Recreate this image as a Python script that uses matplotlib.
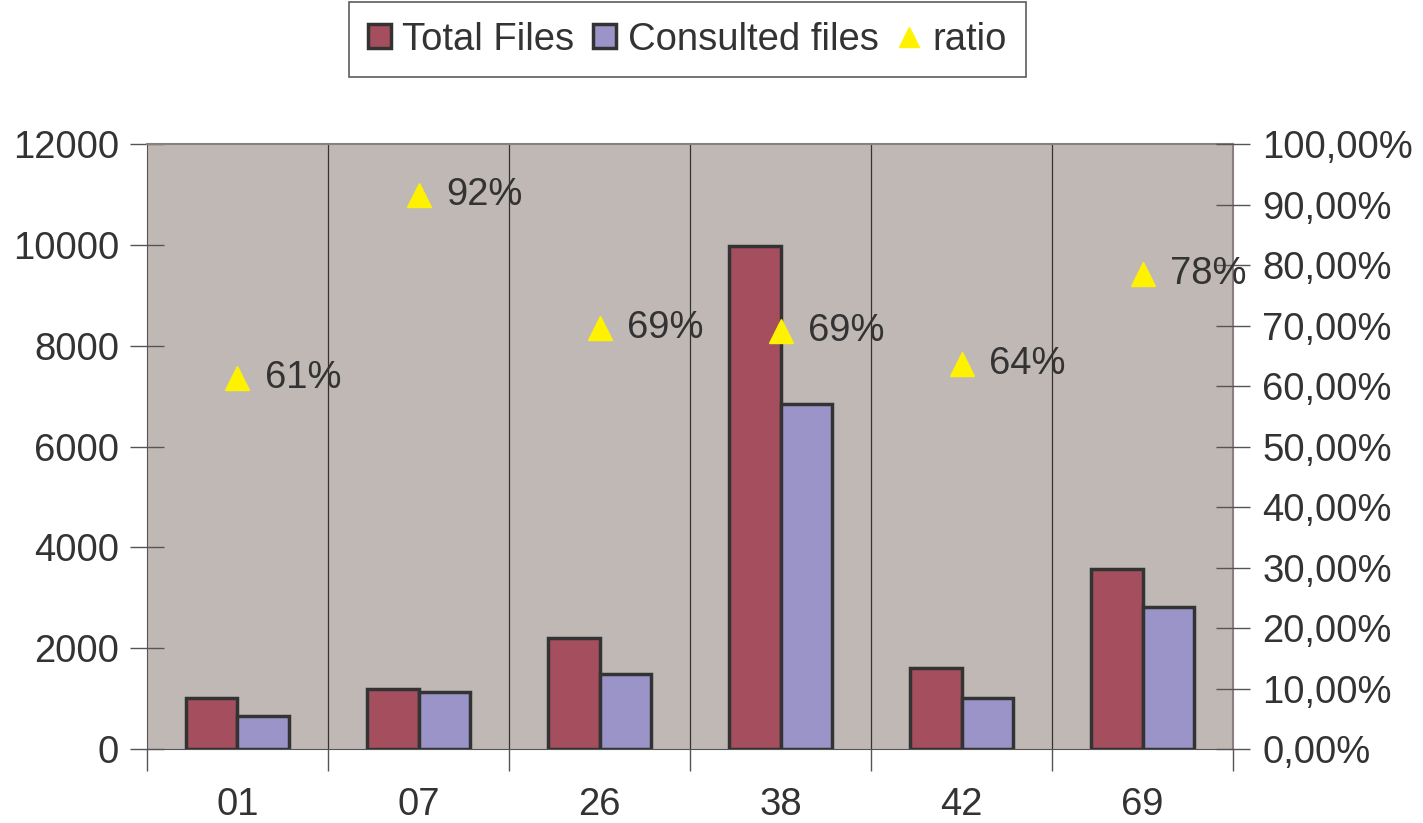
import numpy as np
import matplotlib.pyplot as plt
from matplotlib.patches import Patch
from matplotlib.lines import Line2D

plt.rcParams['font.family'] = ['Liberation Sans', 'DejaVu Sans']

# Data
categories = ['01', '07', '26', '38', '42', '69']
total_files = [1010, 1190, 2200, 9980, 1610, 3580]
consulted_files = [650, 1130, 1490, 6850, 1010, 2810]
ratio = [0.613, 0.916, 0.696, 0.691, 0.636, 0.785]
ratio_labels = ['61%', '92%', '69%', '69%', '64%', '78%']

text_col = '#333333'
bg_col = '#C0B8B5'
total_col = '#A54F5E'
consulted_col = '#9A94C8'
edge_col = '#333333'

fig = plt.figure(figsize=(14.23, 8.23), dpi=100)
ax = fig.add_axes([0.1033, 0.0899, 0.7632, 0.7351])
ax.set_facecolor(bg_col)

x = np.arange(len(categories))
w = 0.285
ax.bar(x - w / 2, total_files, w, color=total_col, edgecolor=edge_col, linewidth=2.5, zorder=3)
ax.bar(x + w / 2, consulted_files, w, color=consulted_col, edgecolor=edge_col, linewidth=2.5, zorder=3)

ax.set_xlim(-0.5, len(categories) - 0.5)
ax.set_ylim(0, 12000)
ax.set_yticks(np.arange(0, 12001, 2000))

# category boundaries as vertical grid lines, labels at centres
bounds = np.arange(-0.5, len(categories), 1.0)
ax.set_xticks(bounds)
ax.set_xticklabels([])
ax.set_xticks(x, minor=True)
ax.set_xticklabels(categories, minor=True)
for b in bounds[1:-1]:
    ax.axvline(b, color='#333333', linewidth=0.9, zorder=1)

ax.tick_params(axis='x', which='major', direction='out', length=16, color='#555555', width=1)
ax.tick_params(axis='x', which='minor', length=0, pad=27, labelsize=27.5, labelcolor=text_col)
ax.tick_params(axis='y', direction='inout', length=24, color='#555555', width=1,
               labelsize=27.5, labelcolor=text_col, pad=8)

for s in ['left', 'bottom']:
    ax.spines[s].set_color('#555555')
for s in ['top', 'right']:
    ax.spines[s].set_color('#8a807d')
    ax.spines[s].set_linewidth(1.5)

ax2 = ax.twinx()
ax2.set_ylim(0, 1.0)
ax2.set_yticks(np.arange(0, 1.001, 0.1))
ax2.set_yticklabels([f'{v:.2f}'.replace('.', ',') + '%' for v in np.arange(0, 100.1, 10)])
ax2.tick_params(axis='y', direction='inout', length=24, color='#555555', width=1,
                labelsize=27.5, labelcolor=text_col, pad=9)
for s in ax2.spines.values():
    s.set_visible(False)

ax2.plot(x, ratio, linestyle='none', marker='^', markersize=17, color='#FFF200', zorder=5)
for xi, r, lab in zip(x, ratio, ratio_labels):
    ax2.annotate(lab, (xi, r), xytext=(20, 0), textcoords='offset points',
                 va='center', ha='left', fontsize=27.5, color=text_col)

handles = [
    Patch(facecolor=total_col, edgecolor=edge_col, linewidth=2.5, label='Total Files'),
    Patch(facecolor=consulted_col, edgecolor=edge_col, linewidth=2.5, label='Consulted files'),
    Line2D([], [], linestyle='none', marker='^', markersize=15, color='#FFF200', label='ratio'),
]
leg = fig.legend(handles=handles, loc='center', bbox_to_anchor=(0.4829, 0.952), ncol=3,
                 fontsize=27.5, frameon=True, fancybox=False, edgecolor='#333333',
                 handlelength=0.6, handleheight=0.6, handletextpad=0.3, columnspacing=0.5,
                 borderpad=0.5, labelcolor=text_col)
leg.get_frame().set_linewidth(1.2)

fig.savefig('out.png', dpi=100)
